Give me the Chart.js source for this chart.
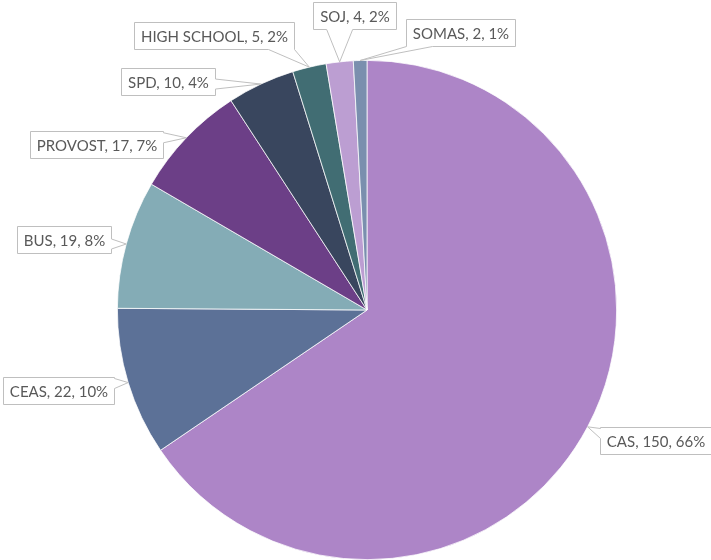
<!DOCTYPE html>
<html>
<head>
<meta charset="utf-8">
<script src="https://cdn.jsdelivr.net/npm/chart.js@4"></script>
<style>
  html, body { margin: 0; padding: 0; background: #fff; }
  #wrap { width: 711px; height: 560px; }
</style>
</head>
<body>
<div id="wrap"><canvas id="pieChart"></canvas></div>
<script>
// data
const depts = ['CAS', 'CEAS', 'BUS', 'PROVOST', 'SPD', 'HIGH SCHOOL', 'SOJ', 'SOMAS'];
const counts = [150, 22, 19, 17, 10, 5, 4, 2];
const sliceColors = ['#ad85c7', '#5c7197', '#84acb6', '#6c3f87', '#39465e', '#416d73', '#bc9ed2', '#7a8fae'];

// where each callout box sits, relative to the point on the pie edge (box centre offset)
const calloutOffsets = [[68, 14], [-70, 8], [-62, -5], [-90, 7], [-93, -3], [-95, -32], [15, -46], [100, -28]];

const total = counts.reduce((a, b) => a + b, 0);

function calloutPath(ctx, x0, y0, x1, y1, tx, ty) {
  const clamp = (v, a, b) => Math.max(a, Math.min(b, v));
  let side;
  if (ty > y1 + 8) side = 'bottom';
  else if (ty < y0 - 8) side = 'top';
  else if (tx > x1) side = 'right';
  else side = 'left';

  ctx.beginPath();
  ctx.moveTo(x0, y0);
  if (side === 'top') {
    const hw = 13, c = clamp(tx, x0 + hw, x1 - hw);
    ctx.lineTo(c - hw, y0); ctx.lineTo(tx, ty); ctx.lineTo(c + hw, y0);
  }
  ctx.lineTo(x1, y0);
  if (side === 'right') {
    const hw = 5, c = clamp(ty, y0 + hw + 1, y1 - hw - 1);
    ctx.lineTo(x1, c - hw); ctx.lineTo(tx, ty); ctx.lineTo(x1, c + hw);
  }
  ctx.lineTo(x1, y1);
  if (side === 'bottom') {
    const hw = 13, c = clamp(tx, x0 + hw, x1 - hw);
    ctx.lineTo(c + hw, y1); ctx.lineTo(tx, ty); ctx.lineTo(c - hw, y1);
  }
  ctx.lineTo(x0, y1);
  if (side === 'left') {
    const hw = 5, c = clamp(ty, y0 + hw + 1, y1 - hw - 1);
    ctx.lineTo(x0, c + hw); ctx.lineTo(tx, ty); ctx.lineTo(x0, c - hw);
  }
  ctx.closePath();
}

const callouts = {
  id: 'callouts',
  afterDatasetsDraw(chart) {
    const ctx = chart.ctx;
    const arcs = chart.getDatasetMeta(0).data;
    ctx.save();
    ctx.font = '15px Lato';
    ctx.textAlign = 'center';
    ctx.textBaseline = 'middle';
    arcs.forEach((arc, i) => {
      const mid = (arc.startAngle + arc.endAngle) / 2;
      const tx = arc.x + Math.cos(mid) * arc.outerRadius;
      const ty = arc.y + Math.sin(mid) * arc.outerRadius;
      const pct = Math.round(counts[i] / total * 100);
      const text = `${depts[i]}, ${counts[i]}, ${pct}%`;
      const w = ctx.measureText(text).width + 13;
      const h = 27;
      const cx = tx + calloutOffsets[i][0];
      const cy = ty + calloutOffsets[i][1];
      const x0 = Math.round(cx - w / 2) + 0.5, x1 = Math.round(cx + w / 2) + 0.5;
      const y0 = Math.round(cy - h / 2) + 0.5, y1 = Math.round(cy + h / 2) + 0.5;
      calloutPath(ctx, x0, y0, x1, y1, tx, ty);
      ctx.fillStyle = '#ffffff';
      ctx.fill();
      ctx.strokeStyle = '#bfbfbf';
      ctx.lineWidth = 1;
      ctx.stroke();
      ctx.fillStyle = '#595959';
      ctx.fillText(text, (x0 + x1) / 2, (y0 + y1) / 2 + 1);
    });
    ctx.restore();
  }
};

new Chart(document.getElementById('pieChart'), {
  type: 'pie',
  data: {
    labels: depts,
    datasets: [{
      data: counts,
      backgroundColor: sliceColors,
      borderColor: '#ffffff',
      borderWidth: 0.75
    }]
  },
  options: {
    responsive: true,
    maintainAspectRatio: false,
    animation: false,
    layout: { padding: { left: 117, right: 94, top: 60, bottom: 0 } },
    plugins: {
      legend: { display: false },
      tooltip: { enabled: false }
    }
  },
  plugins: [callouts]
});
</script>
</body>
</html>
